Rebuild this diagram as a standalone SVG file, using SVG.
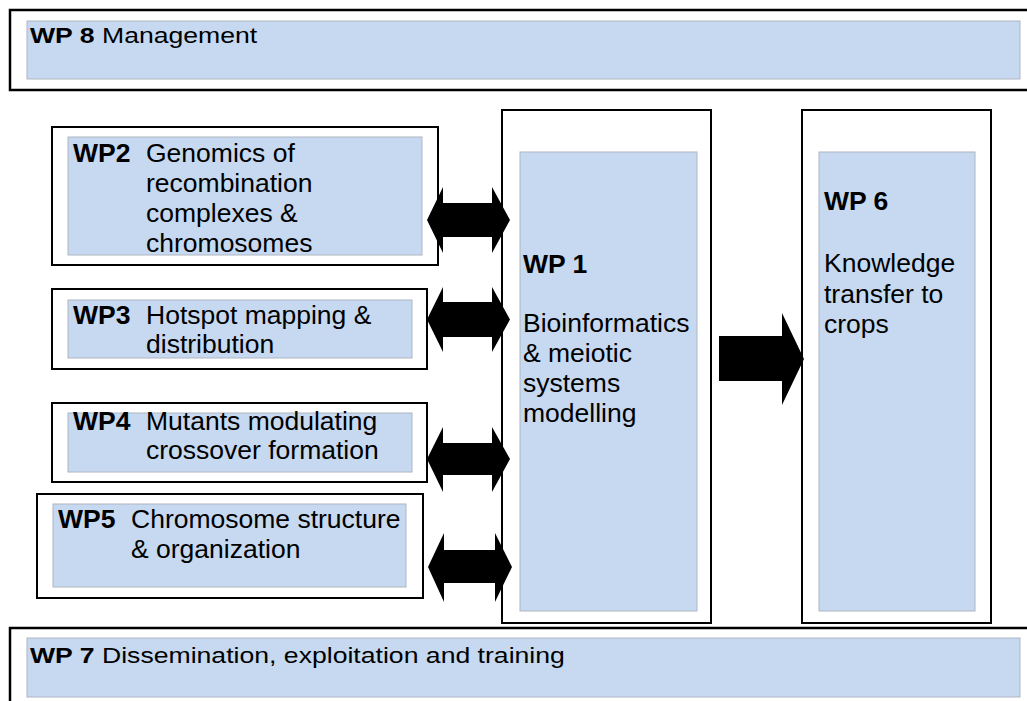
<svg xmlns="http://www.w3.org/2000/svg" width="1027" height="701" viewBox="0 0 1027 701">
  <style>
    .frame { fill: #ffffff; stroke: #000000; stroke-width: 2; }
    .frame-wide { fill: #ffffff; stroke: #000000; stroke-width: 2.5; }
    .panel { fill: #C6D9F0; stroke: #AEB6C2; stroke-width: 1; }
    text { font-family: "Liberation Sans", Arial, sans-serif; fill: #000000; }
    .body { font-size: 26.5px; }
    .band { font-size: 22px; }
    .b { font-weight: bold; }
    .arrow { fill: #000000; }
  </style>

  <!-- WP 8: management band across the top -->
  <g id="wp8">
    <rect class="frame-wide" x="10" y="10" width="1040" height="80"/>
    <rect class="panel" x="27" y="21" width="993" height="58"/>
    <text class="band" transform="translate(30,43) scale(1.21,1)"><tspan class="b">WP 8</tspan> Management</text>
  </g>

  <!-- WP 2 -->
  <g id="wp2">
    <rect class="frame" x="52" y="127" width="386" height="138"/>
    <rect class="panel" x="68" y="137" width="354" height="118"/>
    <text class="body b" x="73" y="162">WP2</text>
    <text class="body" x="146" y="162">Genomics of</text>
    <text class="body" x="146" y="192">recombination</text>
    <text class="body" x="146" y="222">complexes &amp;</text>
    <text class="body" x="146" y="252">chromosomes</text>
  </g>

  <!-- WP 3 -->
  <g id="wp3">
    <rect class="frame" x="52" y="289" width="375" height="80"/>
    <rect class="panel" x="68" y="300" width="344" height="58"/>
    <text class="body b" x="73" y="324">WP3</text>
    <text class="body" x="146" y="324">Hotspot mapping &amp;</text>
    <text class="body" x="146" y="353">distribution</text>
  </g>

  <!-- WP 4 -->
  <g id="wp4">
    <rect class="frame" x="52" y="403" width="375" height="79"/>
    <rect class="panel" x="68" y="413" width="344" height="59"/>
    <text class="body b" x="73" y="430">WP4</text>
    <text class="body" x="146" y="430">Mutants modulating</text>
    <text class="body" x="146" y="459">crossover formation</text>
  </g>

  <!-- WP 5 -->
  <g id="wp5">
    <rect class="frame" x="37" y="494" width="386" height="104"/>
    <rect class="panel" x="53" y="504" width="353" height="83"/>
    <text class="body b" x="58" y="528">WP5</text>
    <text class="body" x="131" y="528">Chromosome structure</text>
    <text class="body" x="131" y="558">&amp; organization</text>
  </g>

  <!-- WP 1: central modelling column -->
  <g id="wp1">
    <rect class="frame" x="502" y="110" width="209" height="513"/>
    <rect class="panel" x="520" y="152" width="177" height="459"/>
    <text class="body b" x="523" y="273">WP 1</text>
    <text class="body" x="523" y="332">Bioinformatics</text>
    <text class="body" x="523" y="362">&amp; meiotic</text>
    <text class="body" x="523" y="392">systems</text>
    <text class="body" x="523" y="422">modelling</text>
  </g>

  <!-- WP 6: knowledge transfer column -->
  <g id="wp6">
    <rect class="frame" x="802" y="110" width="189" height="513"/>
    <rect class="panel" x="819" y="152" width="156" height="459"/>
    <text class="body b" x="824" y="210">WP 6</text>
    <text class="body" x="824" y="272">Knowledge</text>
    <text class="body" x="824" y="303">transfer to</text>
    <text class="body" x="824" y="333">crops</text>
  </g>

  <!-- WP 7: dissemination band across the bottom -->
  <g id="wp7">
    <rect class="frame-wide" x="10" y="628" width="1040" height="90"/>
    <rect class="panel" x="27" y="638" width="993" height="59"/>
    <text class="band" transform="translate(30,663) scale(1.21,1)"><tspan class="b">WP 7</tspan> Dissemination, exploitation and training</text>
  </g>

  <!-- block arrows -->
  <g id="connectors">
    <polygon class="arrow" points="427,220 443,187 443,203 492,203 492,187 510,220 492,253 492,237 443,237 443,253"/>
    <polygon class="arrow" points="427,319.5 443,287 443,302 492,302 492,287 510,319.5 492,352 492,337 443,337 443,352"/>
    <polygon class="arrow" points="427,459 443,427 443,443 492,443 492,427 510,459 492,492 492,475 443,475 443,492"/>
    <polygon class="arrow" points="428,567 444,533 444,550 495,550 495,533 512,567 495,602 495,583 444,583 444,602"/>
    <polygon class="arrow" points="719,336 782,336 782,313 804,359 782,405 782,381 719,381"/>
  </g>
</svg>
